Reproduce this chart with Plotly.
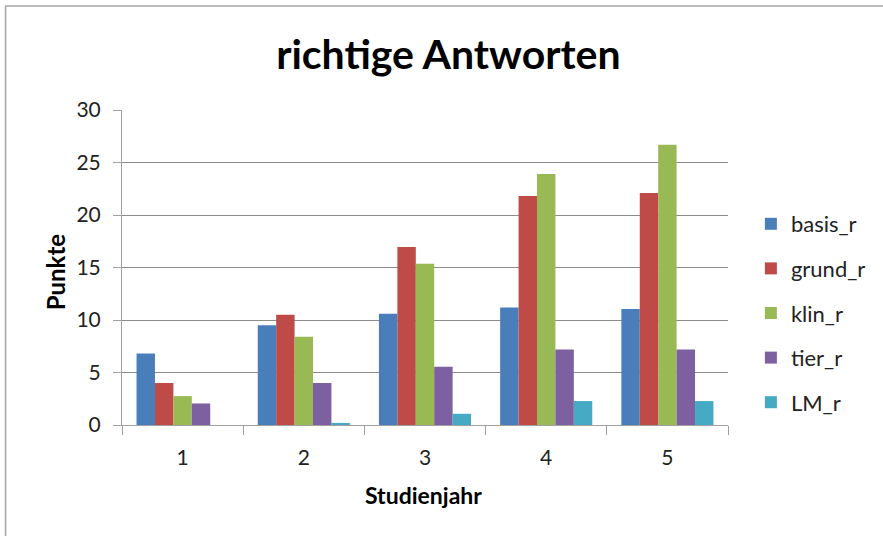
import plotly.graph_objects as go

categories = ["1", "2", "3", "4", "5"]
basis_r = [6.8, 9.5, 10.6, 11.2, 11.05]
grund_r = [4.0, 10.5, 16.95, 21.8, 22.1]
klin_r = [2.75, 8.4, 15.35, 23.9, 26.7]
tier_r = [2.05, 4.0, 5.55, 7.2, 7.2]
lm_r = [0.0, 0.2, 1.07, 2.28, 2.28]

series = [
    ("basis_r", basis_r, "#4A7EBB"),
    ("grund_r", grund_r, "#BE4B48"),
    ("klin_r", klin_r, "#98B954"),
    ("tier_r", tier_r, "#7D60A0"),
    ("LM_r", lm_r, "#46AAC5"),
]

FONT = "Lato"
W, H = 883, 536
L, R, T, B = 122, 152, 110, 111
pw, ph = W - L - R, H - T - B

fig = go.Figure()
for name, vals, col in series:
    fig.add_trace(go.Bar(x=categories, y=vals, name=name, legendgroup=name,
                         marker=dict(color=col, line=dict(width=0))))

fig.update_layout(
    width=W, height=H,
    margin=dict(l=L, r=R, t=T, b=B, pad=0),
    paper_bgcolor="white", plot_bgcolor="white",
    font=dict(family=FONT, size=21, color="#000000"),
    barmode="group", bargap=0.24, bargroupgap=0,
    title=dict(text="<b>richtige Antworten</b>", x=(450 - L) / pw, xanchor="center",
               xref="paper", y=1 - 55 / H, yanchor="middle",
               font=dict(family=FONT, size=41, color="#000000")),
    legend=dict(x=(754 - L) / pw, xanchor="left",
                y=1 - (313 - T) / ph, yanchor="middle",
                font=dict(family=FONT, size=22, color="#222222"),
                traceorder="grouped", tracegroupgap=13,
                itemwidth=30, bgcolor="rgba(0,0,0,0)"),
    showlegend=True,
    xaxis=dict(type="category", tickson="boundaries", ticks="outside", ticklen=9,
               tickcolor="#A0A0A0", showline=True, linecolor="#A0A0A0", linewidth=1,
               showgrid=False, tickfont=dict(size=21, color="#222222"),
               ticklabelstandoff=14),
    yaxis=dict(range=[0, 30], dtick=5, ticks="outside", ticklen=8, tickcolor="#A0A0A0",
               showline=True, linecolor="#A0A0A0", linewidth=1,
               showgrid=True, gridcolor="#8C8C8C", gridwidth=1,
               tickfont=dict(size=21, color="#222222"), zeroline=False,
               ticklabelstandoff=8),
)

fig.add_annotation(text="<b>Studienjahr</b>", xref="paper", yref="paper",
                   x=(425 - L) / pw, y=-(495 - (T + ph)) / ph, xanchor="center", yanchor="middle",
                   showarrow=False, font=dict(family=FONT, size=23, color="#000000"))
fig.add_annotation(text="<b>Punkte</b>", xref="paper", yref="paper",
                   x=(55 - L) / pw, y=1 - (272 - T) / ph, xanchor="center", yanchor="middle",
                   textangle=-90, showarrow=False,
                   font=dict(family=FONT, size=24, color="#000000"))

# chart-area border (top and left visible in reference)
fig.add_shape(type="rect", xref="paper", yref="paper",
              x0=(5 - L) / pw, x1=(W + 10 - L) / pw,
              y0=-(H + 10 - T - ph) / ph, y1=1 + (T - 6) / ph,
              line=dict(color="#A6A6A6", width=1.5), layer="below")

fig.write_html("out.html", config={"displayModeBar": False},
               post_script="document.body.style.margin='0';")
